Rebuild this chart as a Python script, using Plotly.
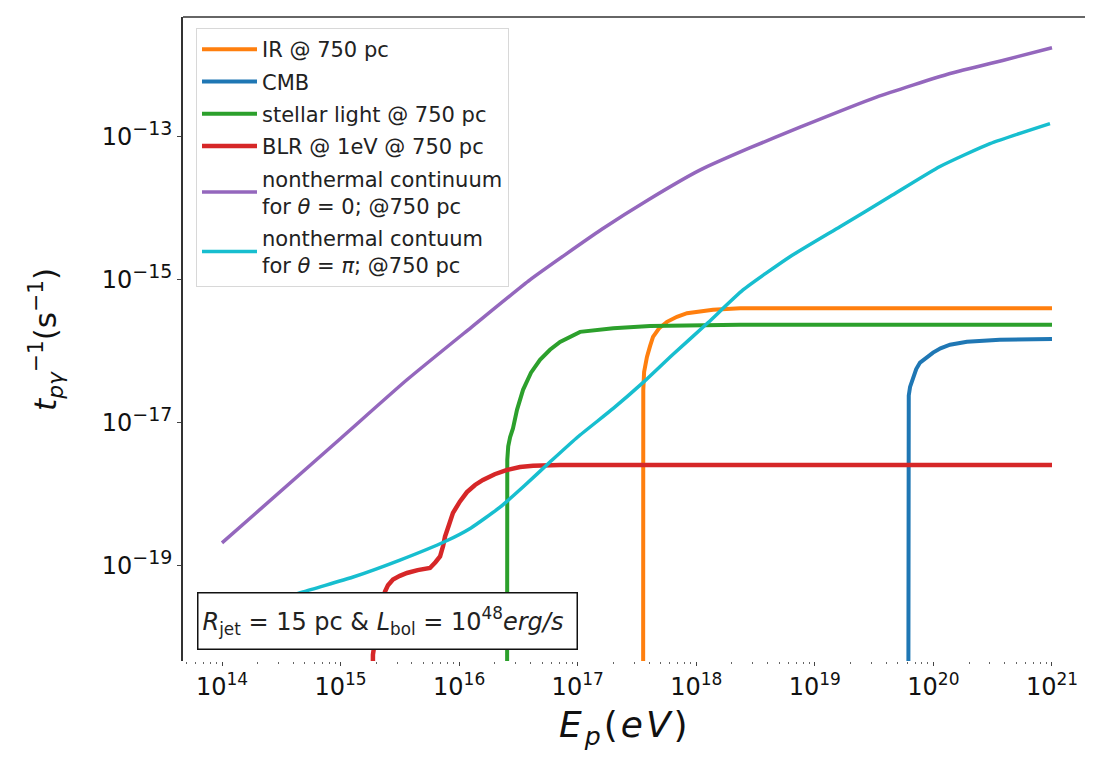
import plotly.graph_objects as go

# ---- data (log10 E_p [eV], log10 rate [s^-1]) ----
ir_logE = [17.551, 17.551, 17.553, 17.56, 17.584, 17.61, 17.635, 17.686, 17.753, 17.837,
           17.922, 18.141, 18.369, 21.0]
ir_logR = [-24.0, -16.90, -16.54, -16.29, -16.08, -15.93, -15.80, -15.68, -15.59, -15.52,
           -15.47, -15.42, -15.40, -15.40]

cmb_logE = [19.786, 19.786, 19.792, 19.803, 19.828, 19.855, 19.887, 19.937, 19.997, 20.06,
            20.14, 20.283, 20.56, 21.0]
cmb_logR = [-24.0, -16.78, -16.62, -16.50, -16.36, -16.25, -16.16, -16.09, -16.02, -15.96,
            -15.91, -15.87, -15.84, -15.83]

stellar_logE = [16.403, 16.403, 16.406, 16.414, 16.43, 16.454, 16.488, 16.539, 16.606, 16.682,
                16.766, 16.851, 17.02, 17.30, 17.61, 18.37, 21.0]
stellar_logR = [-24.0, -17.70, -17.52, -17.33, -17.20, -17.08, -16.82, -16.54, -16.30, -16.12,
                -15.98, -15.87, -15.73, -15.68, -15.65, -15.63, -15.63]

blr_logE = [15.265, 15.273, 15.316, 15.375, 15.40, 15.442, 15.50, 15.56, 15.65, 15.754, 15.80,
            15.839, 15.865, 15.881, 15.914, 15.948, 16.007, 16.066, 16.134, 16.201, 16.30,
            16.404, 16.513, 16.623, 16.851, 21.0]
blr_logR = [-24.0, -20.24, -19.75, -19.36, -19.27, -19.19, -19.14, -19.10, -19.06, -19.03, -18.95,
            -18.87, -18.72, -18.59, -18.43, -18.26, -18.10, -17.97, -17.87, -17.80, -17.72,
            -17.66, -17.62, -17.60, -17.59, -17.59]

nt0_logE = [14.0, 15.0, 15.56, 16.1, 16.6, 17.2, 17.6, 18.03, 18.45, 18.875, 19.52, 20.14,
            20.6, 21.0]
nt0_logR = [-18.68, -17.22, -16.40, -15.67, -15.00, -14.30, -13.88, -13.47, -13.16, -12.87,
            -12.45, -12.12, -11.93, -11.76]

ntpi_logE = [14.0, 14.683, 15.1, 15.501, 15.881, 16.1, 16.345, 16.55, 16.766, 17.0, 17.3, 17.55,
             17.8, 18.1, 18.394, 18.79, 19.212, 19.634, 20.055, 20.477, 20.983]
ntpi_logR = [-19.74, -19.365, -19.16, -18.92, -18.66, -18.47, -18.18, -17.88, -17.55, -17.20,
             -16.80, -16.44, -16.05, -15.60, -15.145, -14.68, -14.26, -13.84, -13.42, -13.10,
             -12.82]

series = [
    ("IR @ 750 pc", ir_logE, ir_logR, "#ff7f0e", 4, "linear"),
    ("CMB", cmb_logE, cmb_logR, "#1f77b4", 4, "linear"),
    ("stellar light @ 750 pc", stellar_logE, stellar_logR, "#2ca02c", 4, "linear"),
    ("BLR @ 1eV @ 750 pc", blr_logE, blr_logR, "#d62728", 4.5, "linear"),
    ("nonthermal continuum<br>for <i>θ</i> = 0; @750 pc", nt0_logE, nt0_logR, "#9467bd", 3.5, "spline"),
    ("nonthermal contuum<br>for <i>θ</i> = <i>π</i>; @750 pc", ntpi_logE, ntpi_logR, "#17becf", 3.5, "spline"),
]

x_ticks = [14, 15, 16, 17, 18, 19, 20, 21]
y_ticks = [-13, -15, -17, -19]

FONT = "DejaVu Sans"

fig = go.Figure()
for i, (name, lx, ly, col, w, shp) in enumerate(series):
    line = dict(color=col, width=w, shape=shp)
    if shp == "spline":
        line["smoothing"] = 0.5
    fig.add_trace(go.Scatter(
        x=[10.0 ** v for v in lx], y=[10.0 ** v for v in ly], mode="lines",
        name=name, legendgroup=f"g{i}", line=line,
    ))

minor_x = [m * 10.0 ** k for k in range(13, 22) for m in range(2, 10)]

# page offset from the default 8px body margin of the html page
OFF = 8
W, H = 1093 - 2 * OFF, 772 - 2 * OFF
L, R, T = 183 - OFF, 0, 17 - OFF
PLOT_BOTTOM = 661 - OFF
B = H - PLOT_BOTTOM
pw, ph = W - L - R, H - T - B
PLOT_RIGHT_PAGE = OFF + W
X_LEFT = 14 + (183 - 222) / 118.57
X_RIGHT = 14 + (PLOT_RIGHT_PAGE - 222) / 118.57


def px_x(px):  # page pixel -> paper x
    return (px - OFF - L) / pw


def px_y(py):  # page pixel -> paper y
    return (PLOT_BOTTOM - (py - OFF)) / ph


def sup(t, size):
    return f"<sup><span style='font-size:{size}px'>{t}</span></sup>"


fig.update_layout(
    width=W, height=H,
    margin=dict(l=L, r=R, t=T, b=B, pad=0),
    paper_bgcolor="white",
    plot_bgcolor="white",
    font=dict(family=FONT, color="#111"),
    showlegend=True,
    legend=dict(
        x=px_x(196), y=px_y(28), xanchor="left", yanchor="top",
        bgcolor="white", bordercolor="#d8d8d8", borderwidth=1,
        font=dict(family=FONT, size=21, color="#222"),
        tracegroupgap=2, itemwidth=55,
    ),
    xaxis=dict(
        type="log", range=[X_LEFT, X_RIGHT],
        tickvals=[10.0 ** k for k in x_ticks],
        ticktext=["10" + sup(k, 17) for k in x_ticks],
        ticks="outside", ticklen=4, tickcolor="#444", tickwidth=1,
        minor=dict(tickvals=minor_x, ticks="outside", ticklen=2, tickcolor="#666", showgrid=False),
        showgrid=False, zeroline=False, showline=False,
        tickfont=dict(family=FONT, size=24, color="#111"),
    ),
    yaxis=dict(
        type="log", range=[-20.33, -11.33],
        tickvals=[10.0 ** k for k in y_ticks],
        ticktext=["10" + sup(f"−{-k}", 19) for k in y_ticks],
        ticks="outside", ticklen=4, tickcolor="#444", tickwidth=1,
        showgrid=False, zeroline=False,
        showline=True, linecolor="#333", linewidth=1.5,
        tickfont=dict(family=FONT, size=24, color="#111"),
    ),
    shapes=[
        dict(type="line", xref="paper", yref="paper", x0=0, x1=1, y0=1, y1=1,
             line=dict(color="#333", width=1.5)),
    ],
    annotations=[
        dict(xref="paper", yref="paper", x=px_x(387), y=px_y(620.5),
             xanchor="center", yanchor="middle", showarrow=False, align="left",
             text="<i>R</i><sub>jet</sub> = 15 pc & <i>L</i><sub>bol</sub> = 10<sup>48</sup><i>erg/s</i>",
             font=dict(family=FONT, size=24, color="#222"),
             bgcolor="white", bordercolor="#111", borderwidth=1.5, borderpad=4,
             width=370, height=47),
        dict(xref="paper", yref="paper", x=px_x(625), y=px_y(727),
             xanchor="center", yanchor="middle", showarrow=False,
             text="<span style='letter-spacing:3px'><i>E<sub>p</sub></i>(<i>eV</i>)</span>",
             font=dict(family=FONT, size=36, color="#111")),
        dict(xref="paper", yref="paper", x=px_x(45), y=px_y(340),
             xanchor="center", yanchor="middle", showarrow=False, textangle=-90,
             text="<i>t</i><sub><i>pγ</i></sub><sup>−1</sup>(s<sup>−1</sup>)",
             font=dict(family=FONT, size=31, color="#111")),
    ],
)

fig.write_html("out.html")
